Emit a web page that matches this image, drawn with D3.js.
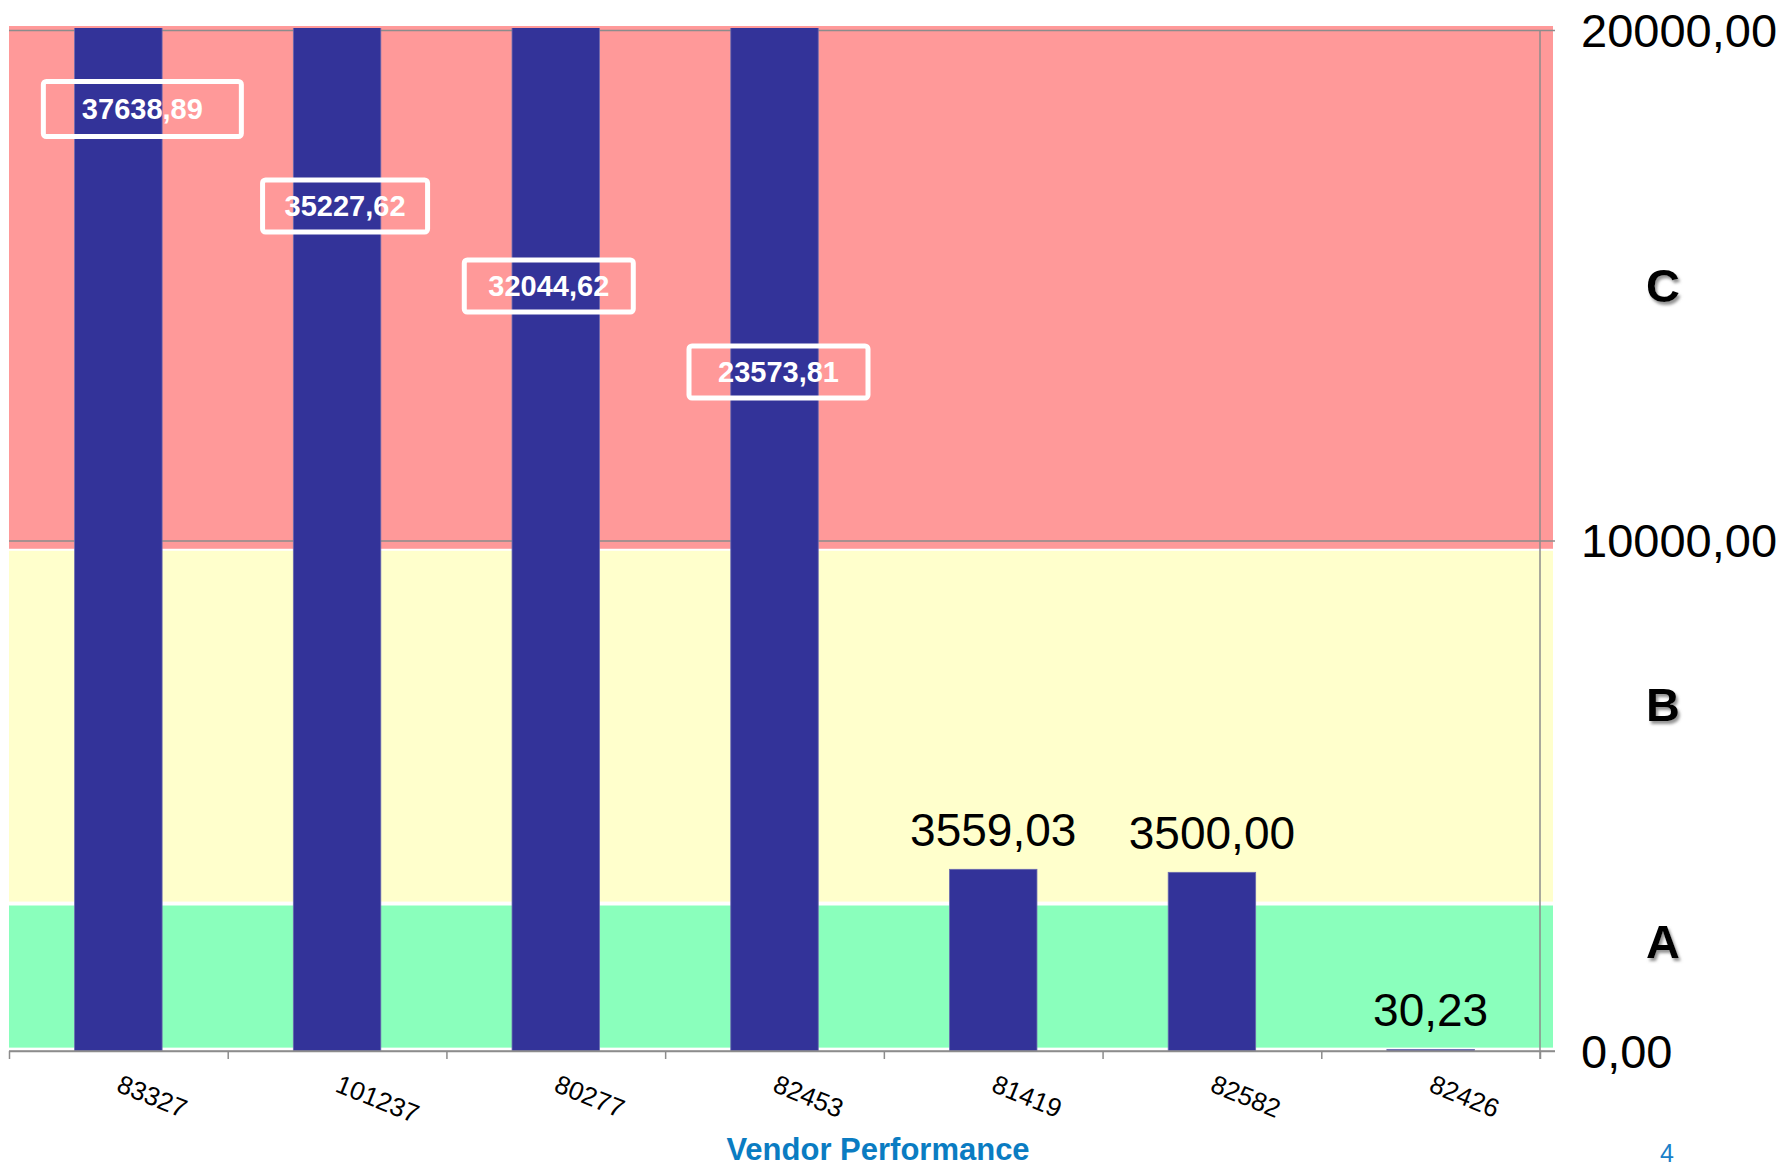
<!DOCTYPE html>
<html>
<head>
<meta charset="utf-8">
<script src="https://cdn.jsdelivr.net/npm/d3@7"></script>
<style>
  body { margin: 0; background: #fff; }
  svg { display: block; font-family: "Liberation Sans", Arial, sans-serif; }
  .grid line { stroke: #8c8c8c; stroke-width: 1.5; }
  .grid path { display: none; }
  .yaxis path, .yaxis line, .xticks path, .xticks line { stroke: #8c8c8c; stroke-width: 1.5; }
  .yaxis text { font-size: 47px; fill: #000; }
  .xlabels text { font-size: 26px; fill: #000; }
  .letter { font-size: 47px; font-weight: bold; fill: #000; }
</style>
</head>
<body>
<svg width="1783" height="1168"></svg>
<script>
// **** data ****
var vendors = ['83327', '101237', '80277', '82453', '81419', '82582', '82426'];
var amounts = [37638.89, 35227.62, 32044.62, 23573.81, 3559.03, 3500.00, 30.23];

var yTicks = [0, 10000, 20000];

// classification bands (value ranges)
var bandNames = ['A', 'B', 'C'];
var bandLow = [66, 2927, 9838];
var bandHigh = [2850, 9799, 20078];
var bandColors = ['#8affbc', '#ffffcc', '#ff9999'];
var bandLetterAt = [2150, 6800, 15000];

// callout boxes for the bars that go off the top (layout only)
var callouts = [
    {dx: 24, cy: 109, w: 198, h: 55},
    {dx: 8, cy: 206, w: 165, h: 52},
    {dx: -7, cy: 286, w: 169, h: 52},
    {dx: 4, cy: 372, w: 179, h: 52}
];

var svg = d3.select('svg');
// note: "top" is taken by window.top, so use plot* names
var plotLeft = 9, plotRight = 1540, plotTop = 30, plotBottom = 1051;

var locale = d3.formatLocale({decimal: ',', thousands: '', grouping: [3]});
var fmt = locale.format('.2f');

// **** scales ****
var x = d3.scaleBand().domain(vendors).range([plotLeft, plotRight])
    .paddingInner(0.6).paddingOuter(0.3);
var y = d3.scaleLinear().domain([0, 20000]).range([plotBottom, plotTop]);
var xEdges = d3.scaleLinear().domain([0, vendors.length]).range([plotLeft, plotRight]);

// drop shadow for the band letters
var defs = svg.append('defs');
defs.append('filter').attr('id', 'shadow')
    .attr('x', '-30%').attr('y', '-30%').attr('width', '160%').attr('height', '160%')
    .append('feDropShadow')
    .attr('dx', 2).attr('dy', 3).attr('stdDeviation', 1.6)
    .attr('flood-color', '#777').attr('flood-opacity', 0.8);
defs.append('clipPath').attr('id', 'plotclip')
    .append('rect').attr('x', 0).attr('y', plotTop - 2)
    .attr('width', 1783).attr('height', plotBottom - plotTop + 2);

// **** bands ****
svg.selectAll('.band')
    .data(bandNames)
    .enter()
    .append('rect')
    .attr('class', 'band')
    .attr('x', plotLeft)
    .attr('width', 1553 - plotLeft)
    .attr('y', function(d, i) { return y(bandHigh[i]); })
    .attr('height', function(d, i) { return y(bandLow[i]) - y(bandHigh[i]); })
    .attr('fill', function(d, i) { return bandColors[i]; });

// gridlines
svg.append('g').attr('class', 'grid')
    .attr('transform', 'translate(' + plotRight + ',0)')
    .call(d3.axisLeft(y).tickValues(yTicks).tickSize(plotRight - plotLeft).tickFormat(''));

// **** bars ****
svg.append('g').attr('clip-path', 'url(#plotclip)')
    .selectAll('.bar')
    .data(vendors)
    .enter()
    .append('rect')
    .attr('class', 'bar')
    .attr('x', function(d) { return x(d); })
    .attr('width', x.bandwidth())
    .attr('y', function(d, i) { return y(amounts[i]); })
    .attr('height', function(d, i) { return plotBottom - y(amounts[i]); })
    .attr('fill', '#333399')
    .attr('stroke', '#6b6bb0')
    .attr('stroke-width', 0.8);

// x axis line with ticks between categories
svg.append('g').attr('class', 'xticks')
    .attr('transform', 'translate(0,' + plotBottom + ')')
    .call(d3.axisBottom(xEdges).tickValues(d3.range(vendors.length + 1))
        .tickSize(8).tickSizeOuter(0).tickFormat(''))
    .select('.domain').attr('d', 'M' + plotLeft + ',0H1555');

// category labels, tilted
svg.append('g').attr('class', 'xlabels')
    .attr('transform', 'translate(0,' + plotBottom + ')')
    .call(d3.axisBottom(x).tickSize(0))
    .call(function(g) { g.select('.domain').remove(); })
    .selectAll('text')
    .attr('x', 0).attr('y', 0).attr('dy', 0)
    .attr('text-anchor', 'start')
    .attr('font-family', null).attr('font-size', null)
    .attr('transform', 'translate(-3,40) rotate(22)');

// right y axis
svg.append('g').attr('class', 'yaxis')
    .attr('transform', 'translate(' + plotRight + ',0)')
    .call(d3.axisRight(y).tickValues(yTicks).tickSizeInner(15).tickSizeOuter(0)
        .tickPadding(26).tickFormat(fmt))
    .selectAll('text')
    .attr('font-family', null).attr('font-size', null)
    .attr('dy', '0.35em');

svg.select('.yaxis .domain').attr('d', 'M0,' + plotTop + 'V' + (plotBottom + 8));

// band letters
svg.selectAll('.letter')
    .data(bandNames)
    .enter()
    .append('text')
    .attr('class', 'letter')
    .attr('x', 1663)
    .attr('y', function(d, i) { return y(bandLetterAt[i]); })
    .attr('dy', '0.36em')
    .attr('text-anchor', 'middle')
    .attr('filter', 'url(#shadow)')
    .text(function(d) { return d; });

// **** value labels ****
var inRange = vendors.filter(function(d, i) { return amounts[i] <= 20000; });

svg.selectAll('.vlabel')
    .data(inRange)
    .enter()
    .append('text')
    .attr('class', 'vlabel')
    .attr('x', function(d) { return x(d) + x.bandwidth() / 2; })
    .attr('y', function(d) { return y(amounts[vendors.indexOf(d)]) - 23; })
    .attr('text-anchor', 'middle')
    .attr('font-size', 46)
    .attr('fill', '#000')
    .text(function(d) { return fmt(amounts[vendors.indexOf(d)]); });

var outRange = vendors.filter(function(d, i) { return amounts[i] > 20000; });

var callG = svg.selectAll('.callout')
    .data(outRange)
    .enter()
    .append('g')
    .attr('class', 'callout')
    .attr('transform', function(d, i) {
        return 'translate(' + (x(d) + x.bandwidth() / 2 + callouts[i].dx) + ',' + callouts[i].cy + ')';
    });

callG.append('rect')
    .attr('x', function(d, i) { return -callouts[i].w / 2; })
    .attr('y', function(d, i) { return -callouts[i].h / 2; })
    .attr('width', function(d, i) { return callouts[i].w; })
    .attr('height', function(d, i) { return callouts[i].h; })
    .attr('rx', 3)
    .attr('fill', 'none')
    .attr('stroke', '#fff')
    .attr('stroke-width', 5);

callG.append('text')
    .attr('y', 10)
    .attr('text-anchor', 'middle')
    .attr('font-size', 29)
    .attr('font-weight', 'bold')
    .attr('fill', '#fff')
    .text(function(d) { return fmt(amounts[vendors.indexOf(d)]); });

// axis title and page number
svg.append('text')
    .attr('x', 878).attr('y', 1160)
    .attr('text-anchor', 'middle')
    .attr('font-size', 31)
    .attr('font-weight', 'bold')
    .attr('fill', '#0a7cc2')
    .text('Vendor Performance');

svg.append('text')
    .attr('x', 1667).attr('y', 1162)
    .attr('text-anchor', 'middle')
    .attr('font-size', 25)
    .attr('fill', '#1a80c8')
    .text('4');
</script>
</body>
</html>
